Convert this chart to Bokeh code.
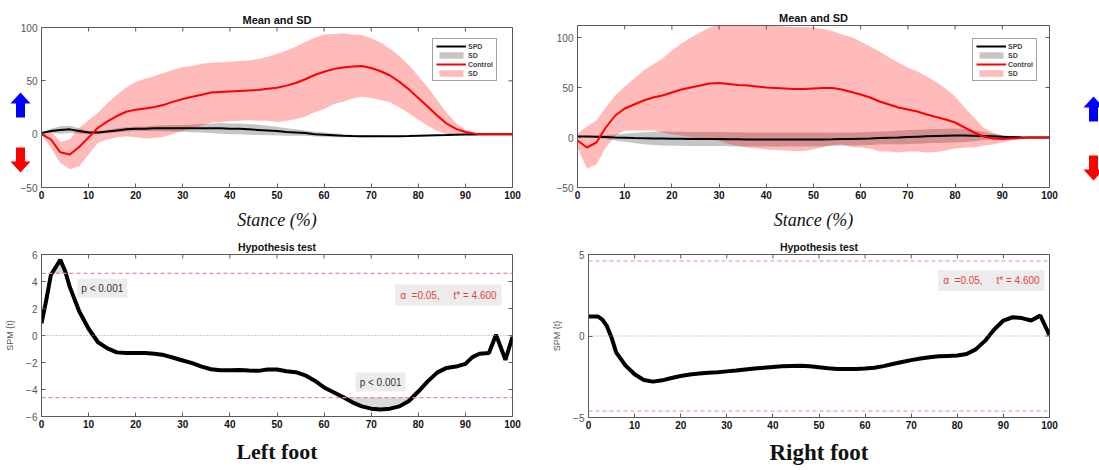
import numpy as np
from bokeh.plotting import figure
from bokeh.models import (LinearAxis, FixedTicker, Span, Label, Legend, LegendItem)
from bokeh.layouts import row, column
from bokeh.embed import file_html
from bokeh.resources import INLINE

# ---------------- data ----------------
stance = list(range(0, 101, 2))

left_control_mean = [0, -5, -17, -19, -12, -3, 6, 12, 17, 21,
                     23, 24, 25.5, 27.5, 30.5, 33, 35, 37, 39, 39.5,
                     40, 40.5, 41, 41.5, 42.5, 43.5, 45.5, 48, 51.5, 55.5,
                     58.5, 61, 62.5, 63.5, 64, 62, 59, 55, 49, 42,
                     34, 26, 17.5, 10, 5, 2, 0.5, 0, 0, 0,
                     0]
left_control_sd = [0, 8, 10, 14, 18, 16, 14, 17, 20, 23,
                   26, 28, 29, 30, 30, 30, 29, 29, 28, 28,
                   28, 28, 28, 29, 30, 32, 33, 34, 35, 35,
                   35, 33, 32, 30, 29, 28, 27, 25, 24, 22.5,
                   20.5, 18, 14.5, 10, 5.5, 2, 0.5, 0, 0, 0,
                   0]
left_spd_mean = [1, 3, 4, 4.5, 3, 1.5, 1.5, 2.5, 3.5, 4.5,
                 5, 5, 5.5, 5.5, 5.5, 5.5, 5.5, 5.5, 5.5, 5.5,
                 5, 5, 4.5, 4, 3.5, 3, 2, 1.5, 1, 0,
                 -0.5, -1, -1.5, -1.8, -2, -2, -2, -2, -2, -1.8,
                 -1.5, -1.2, -1, -0.8, -0.5, -0.3, -0.2, 0, 0, 0,
                 0]
left_spd_sd = [0, 2, 3.5, 3.5, 2.5, 1.5, 1.5, 1.5, 2, 2,
               2, 2.2, 2.5, 2.8, 3, 3.2, 3.6, 4, 4.5, 5,
               5, 5, 5, 4.8, 4.5, 4, 3.5, 3, 2.5, 2.2,
               2, 1.8, 1.5, 1.2, 1, 0.8, 0.7, 0.6, 0.5, 0.5,
               0.5, 0.5, 0.4, 0.4, 0.3, 0.3, 0.2, 0.2, 0.1, 0.1,
               0]

right_control_mean = [-3, -10, -5, 10, 22, 29, 33, 37, 40, 42,
                      45, 48, 50, 52, 54, 54.5, 53.5, 52.5, 52, 51,
                      50, 49.5, 49, 48.5, 48.5, 49, 49.5, 49.5, 48, 45.5,
                      43, 40, 36, 33, 30, 28, 26, 23, 20.5, 18,
                      15, 10, 5, 1, -1, -1.5, -1, -0.5, 0, 0,
                      0]
right_control_sd = [7, 21, 22, 20, 20, 22, 26, 30, 33, 37,
                    42, 46, 50, 53, 56, 58, 60, 61, 62, 62,
                    62, 62, 62, 62, 62, 61, 59, 57, 55, 55,
                    53, 51, 50, 47, 45, 42, 40, 38, 35, 31,
                    26, 20, 15, 9, 6, 3.5, 2, 0.5, 0, 0,
                    0]
right_spd_mean = [1, 1, 0.8, 0.5, 0, -0.3, -0.6, -0.8, -1, -1.1,
                  -1.2, -1.3, -1.4, -1.5, -1.5, -1.6, -1.7, -1.8, -1.9, -2,
                  -2, -2, -2.1, -2.1, -2.1, -2, -1.9, -1.8, -1.6, -1.4,
                  -1.2, -1, -0.6, -0.3, 0, 0.4, 0.8, 1.2, 1.5, 1.8,
                  2, 2, 1.8, 1.5, 1.2, 0.8, 0.5, 0.2, 0, 0,
                  0]
right_spd_sd = [0, 0.5, 1, 2, 3, 4, 5, 6, 6.5, 7,
                7, 7, 7, 7, 7, 7, 7, 7, 7, 7,
                7, 7, 7, 7, 7, 7, 7, 6.5, 6.5, 6.5,
                6.5, 6.5, 6.5, 6.5, 7, 7, 7, 7, 7, 7,
                7, 6.5, 5.5, 4, 2.5, 1.5, 1, 0.5, 0, 0,
                0]

left_spm_x = [0, 1, 2, 4, 5, 6, 8, 10, 12, 14, 16, 18, 20, 22, 24, 26, 28, 30,
              32, 34, 36, 38, 40, 42, 44, 46, 48, 50, 52, 54, 56, 58, 60, 62,
              64, 66, 68, 70, 72, 74, 76, 78, 80, 82, 84, 86, 88, 90, 91.5, 93,
              95, 96.5, 98.5, 100]
left_spm_t = [0.9, 2.6, 4.5, 5.6, 4.8, 3.6, 1.8, 0.5, -0.5, -0.95, -1.25, -1.3,
              -1.3, -1.3, -1.35, -1.45, -1.65, -1.85, -2.05, -2.3, -2.5, -2.58,
              -2.58, -2.55, -2.6, -2.62, -2.52, -2.52, -2.65, -2.72, -2.95, -3.35,
              -3.85, -4.2, -4.55, -4.95, -5.25, -5.42, -5.48, -5.42, -5.25, -4.85,
              -4.15, -3.4, -2.75, -2.4, -2.3, -2.1, -1.6, -1.35, -1.3, 0.05, -1.8,
              -0.1]

right_spm_x = [0, 2, 3, 4, 5, 6, 8, 10, 12, 14, 16, 18, 20, 22, 24, 26, 28, 30,
               32, 34, 36, 38, 40, 42, 44, 46, 48, 50, 52, 54, 56, 58, 60, 62,
               64, 66, 68, 70, 72, 74, 76, 78, 80, 82, 84, 86, 88, 90, 92, 94,
               96, 98, 100]
right_spm_t = [1.2, 1.2, 1.0, 0.6, -0.1, -1.0, -1.8, -2.35, -2.7, -2.8, -2.72,
               -2.58, -2.45, -2.36, -2.3, -2.25, -2.22, -2.17, -2.12, -2.05, -2.0,
               -1.95, -1.9, -1.86, -1.84, -1.83, -1.86, -1.92, -1.98, -2.02, -2.03,
               -2.02, -2.0, -1.95, -1.85, -1.72, -1.6, -1.48, -1.38, -1.3, -1.24,
               -1.22, -1.2, -1.1, -0.82, -0.3, 0.4, 0.95, 1.15, 1.1, 0.95, 1.25,
               0.05]

t_crit = 4.6
alpha_text = "\u03b1 \u00a0=0.05,\u00a0\u00a0\u00a0\u00a0\u00a0t* = 4.600"
p_text = "p < 0.001"
x_ticks = list(range(0, 101, 10))
mean_y_ticks = [-50, 0, 50, 100]
left_spm_ticks = [-6, -4, -2, 0, 2, 4, 6]
right_spm_ticks = [-5, 0, 5]
legend_labels = ["SPD", "SD", "Control", "SD"]

# ---------------- style ----------------
FRAME = "#5a5a5a"
RED = "#ff0000"
SANS = "Liberation Sans"
SERIF = "Liberation Serif"


def make_fig(width, height, bl, br, bt, bb, yr, yticks, title, xlabel,
             xlabel_size, xlabel_style, xlabel_standoff, title_size, ylabel=None):
    p = figure(width=width, height=height, x_range=(0, 100), y_range=yr,
               output_backend="svg", toolbar_location=None,
               x_axis_location=None, y_axis_location=None,
               min_border_left=bl, min_border_right=br,
               min_border_top=bt, min_border_bottom=bb)
    p.frame_align = False
    p.xgrid.visible = False
    p.ygrid.visible = False
    p.outline_line_color = FRAME
    p.outline_line_width = 1
    p.background_fill_color = "white"
    p.border_fill_color = "white"

    p.title.text = title
    p.title.align = "center"
    p.title.text_font = SANS
    p.title.text_font_size = title_size
    p.title.text_font_style = "bold"
    p.title.text_color = "#111111"
    p.title.standoff = 3

    def base(ax):
        ax.major_tick_in = 4
        ax.major_tick_out = 0
        ax.minor_tick_line_color = None
        ax.axis_line_color = FRAME
        ax.major_tick_line_color = FRAME

    xb = LinearAxis(ticker=FixedTicker(ticks=x_ticks))
    base(xb)
    xb.major_label_text_font = SANS
    xb.major_label_text_font_size = "10px"
    xb.major_label_text_font_style = "bold"
    xb.major_label_text_color = "#111111"
    xb.major_label_standoff = 3
    xb.axis_label = xlabel
    xb.axis_label_text_font = SERIF
    xb.axis_label_text_font_size = xlabel_size
    xb.axis_label_text_font_style = xlabel_style
    xb.axis_label_text_color = "#111111"
    xb.axis_label_standoff = xlabel_standoff
    p.add_layout(xb, "below")

    yl = LinearAxis(ticker=FixedTicker(ticks=yticks))
    base(yl)
    yl.major_label_text_font = SANS
    yl.major_label_text_font_size = "10px"
    yl.major_label_text_color = "#555555"
    yl.major_label_standoff = 4
    if ylabel:
        yl.axis_label = ylabel
        yl.axis_label_text_font = SANS
        yl.axis_label_text_font_size = "9px"
        yl.axis_label_text_font_style = "normal"
        yl.axis_label_text_color = "#555555"
        yl.axis_label_standoff = 8
    p.add_layout(yl, "left")

    # mirrored tick marks on the top and right edges of the box
    ypx = (yr[1] - yr[0]) / (height - bt - bb)
    xpx = 100.0 / (width - bl - br)
    p.segment(x0=x_ticks, y0=[yr[1]] * len(x_ticks), x1=x_ticks,
              y1=[yr[1] - 4 * ypx] * len(x_ticks), line_color=FRAME, line_width=1)
    p.segment(x0=[100] * len(yticks), y0=yticks, x1=[100 - 4 * xpx] * len(yticks),
              y1=yticks, line_color=FRAME, line_width=1)
    return p


def mean_panel(p, c_mean, c_sd, s_mean, s_sd, loc):
    x = np.array(stance, dtype=float)
    cm, cs = np.array(c_mean), np.array(c_sd)
    sm, ss = np.array(s_mean), np.array(s_sd)
    g_band = p.varea(x=x, y1=sm - ss, y2=sm + ss, fill_color="#8c8c8c", fill_alpha=0.5)
    r_band = p.varea(x=x, y1=cm - cs, y2=cm + cs, fill_color=RED, fill_alpha=0.27)
    s_line = p.line(x, sm, line_color="black", line_width=2)
    c_line = p.line(x, cm, line_color=RED, line_width=2)
    items = [LegendItem(label=legend_labels[0], renderers=[s_line]),
             LegendItem(label=legend_labels[1], renderers=[g_band]),
             LegendItem(label=legend_labels[2], renderers=[c_line]),
             LegendItem(label=legend_labels[3], renderers=[r_band])]
    lg = Legend(items=items, location=loc, margin=0, padding=3, spacing=1,
                glyph_width=30, glyph_height=8, label_height=8, label_standoff=2,
                label_text_font=SANS, label_text_font_size="7px",
                label_text_font_style="bold", border_line_color="#444444",
                border_line_width=1, background_fill_color="white",
                background_fill_alpha=1)
    p.add_layout(lg)


def spm_panel(p, xs, ts, p_labels, alpha_pos):
    x = np.array(xs, dtype=float)
    t = np.array(ts, dtype=float)
    p.varea(x=x, y1=np.full_like(t, t_crit), y2=np.maximum(t, t_crit),
            fill_color="#d0d0d0", fill_alpha=0.8)
    p.varea(x=x, y1=np.minimum(t, -t_crit), y2=np.full_like(t, -t_crit),
            fill_color="#d0d0d0", fill_alpha=0.8)
    p.add_layout(Span(location=0, dimension="width", line_color="#9a9a9a",
                      line_width=1, line_dash="1 2"))
    for s in (t_crit, -t_crit):
        p.add_layout(Span(location=s, dimension="width", line_color="#f08a8a",
                          line_width=1.2, line_dash="4 3"))
    p.line(x, t, line_color="black", line_width=4)
    for (lx, ly, align) in p_labels:
        p.add_layout(Label(x=lx, y=ly, text=p_text, text_align=align,
                           text_baseline="middle", text_font=SANS,
                           text_font_size="10px", text_color="#333333",
                           background_fill_color="#ececec", background_fill_alpha=1,
                           padding=4))
    ax_, ay_ = alpha_pos
    p.add_layout(Label(x=ax_, y=ay_, text=alpha_text, text_align="center",
                       text_baseline="middle", text_font=SANS,
                       text_font_size="10px", text_color="#e8413b",
                       background_fill_color="#ececec", background_fill_alpha=1,
                       padding=5))


def arrow_strip(width, x0):
    """Narrow figure whose ranges are page pixels; it holds the direction arrows."""
    s = figure(width=width, height=232, x_range=(x0, x0 + width), y_range=(232, 0),
               output_backend="svg", toolbar_location=None,
               x_axis_location=None, y_axis_location=None,
               min_border=0, outline_line_color=None)
    s.frame_align = False
    s.xgrid.visible = False
    s.ygrid.visible = False
    s.background_fill_color = "white"
    s.border_fill_color = "white"
    return s


def strip_arrow(s, cx, tip, tail, color):
    d = 1 if tip > tail else -1
    hl, hw, bw = 11, 10, 4.5
    neck = tip - d * hl
    s.patch([cx - bw, cx - bw, cx - hw, cx, cx + hw, cx + bw, cx + bw],
            [tail, neck, neck, tip, neck, neck, tail],
            fill_color=color, line_color=None)


# ---------------- panels ----------------
TL_Y = (-50, 100)
TR_Y = (-50, 112)

tl = make_fig(549, 232, 41, 37, 27, 44, TL_Y, mean_y_ticks, "Mean and SD",
              "Stance (%)", "18px", "italic", 8, "11px")
mean_panel(tl, left_control_mean, left_control_sd, left_spd_mean, left_spd_sd, (391, 106))

tr = make_fig(526, 232, 28, 26, 25, 44, TR_Y, mean_y_ticks, "Mean and SD",
              "Stance (%)", "18px", "italic", 8, "11px")
mean_panel(tr, right_control_mean, right_control_sd, right_spd_mean, right_spd_sd, (395, 106))

# left arrows: a strip that sits under the (transparent) left margin of the first panel
left_strip = arrow_strip(41, 0)
strip_arrow(left_strip, 20, 92, 117, "#0000ff")
strip_arrow(left_strip, 20, 172, 147, "#ff0000")
overlap = True
try:
    left_strip.margin = (0, -41, 0, 0)
    tl.border_fill_color = None
except Exception:
    overlap = False

right_strip = arrow_strip(24, 1075)
strip_arrow(right_strip, 1093, 96, 121, "#0000ff")
strip_arrow(right_strip, 1093, 180, 155, "#ff0000")

bl = make_fig(549, 238, 41, 37, 22, 54, (-6, 6), left_spm_ticks, "Hypothesis test",
              "Left foot", "22px", "bold", 8, "10.5px", ylabel="SPM {t}")
spm_panel(bl, left_spm_x, left_spm_t, [(7.6, 3.5, "left"), (72, -3.45, "center")], (86.4, 3.0))

br = make_fig(550, 238, 28, 50, 22, 53, (-5, 5), right_spm_ticks, "Hypothesis test",
              "Right foot", "23px", "bold", 8, "10.5px", ylabel="SPM {t}")
spm_panel(br, right_spm_x, right_spm_t, [], (87.4, 3.4))

if overlap:
    top_row = row(left_strip, tl, tr, right_strip)
else:
    top_row = row(tl, tr, right_strip)
layout = column(top_row, row(bl, br))

open("out.html", "w").write(file_html(layout, INLINE))
